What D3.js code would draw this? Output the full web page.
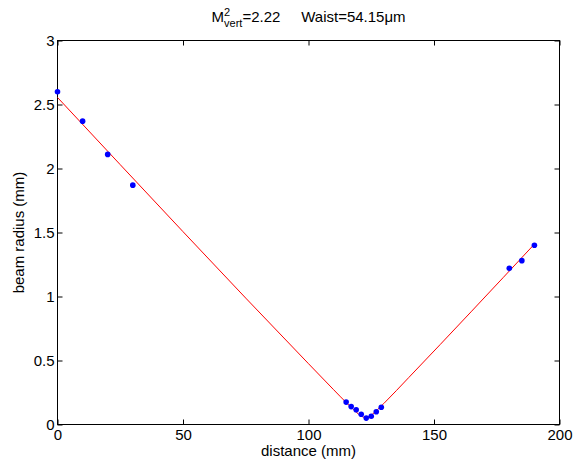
<!DOCTYPE html>
<html>
<head>
<meta charset="utf-8">
<script src="https://cdn.jsdelivr.net/npm/d3@7"></script>
<style>
  body { margin: 0; background: #fff; }
  svg { display: block; }
  text { font-family: Arial, "Liberation Sans", sans-serif; fill: #000; }
</style>
</head>
<body>
<svg width="582" height="468"></svg>
<script>
// measured points
const distance = [0, 10, 20, 30, 115, 117, 119, 121, 123, 125, 127, 129, 180, 185, 190];
const radius = [2.6, 2.37, 2.11, 1.87, 0.175, 0.14, 0.115, 0.08, 0.05, 0.065, 0.10, 0.135, 1.22, 1.28, 1.40];

// fitted curve
const fitDistance = [0, 100, 110, 115, 118, 120, 121.5, 122.6, 124, 125.5, 127.5, 130, 140, 190];
const fitRadius = [2.555, 0.475, 0.272, 0.172, 0.115, 0.08, 0.061, 0.054, 0.061, 0.081, 0.116, 0.164, 0.368, 1.409];

const xTicks = [0, 50, 100, 150, 200];
const yTicks = [0, 0.5, 1, 1.5, 2, 2.5, 3];

const plotLeft = 57.5, plotRight = 559.5, plotTop = 40.5, plotBottom = 424.5;
const svg = d3.select('svg');

let x = d3.scaleLinear().domain([0, 200]).range([plotLeft, plotRight]);
let y = d3.scaleLinear().domain([0, 3]).range([plotBottom, plotTop]);

// box
svg.append('rect')
  .attr('x', plotLeft).attr('y', plotTop)
  .attr('width', plotRight - plotLeft).attr('height', plotBottom - plotTop)
  .attr('fill', 'none').attr('stroke', '#000').attr('stroke-width', 1);

// axes with inward ticks
function styleAxis(g) {
  g.select('.domain').remove();
  g.selectAll('line').attr('stroke', '#000');
  g.selectAll('text').attr('font-size', 15).attr('font-family', 'Arial, "Liberation Sans", sans-serif');
}

svg.append('g')
  .attr('transform', `translate(0,${plotBottom})`)
  .call(d3.axisBottom(x).tickValues(xTicks).tickSize(-5).tickPadding(5).tickFormat(d3.format('d')))
  .call(styleAxis);

svg.append('g')
  .attr('transform', `translate(0,${plotTop})`)
  .call(d3.axisTop(x).tickValues(xTicks).tickSize(-5).tickFormat(''))
  .call(styleAxis);

svg.append('g')
  .attr('transform', `translate(${plotLeft},0)`)
  .call(d3.axisLeft(y).tickValues(yTicks).tickSize(-5).tickPadding(3).tickFormat(d => String(d)))
  .call(styleAxis);

svg.append('g')
  .attr('transform', `translate(${plotRight},0)`)
  .call(d3.axisRight(y).tickValues(yTicks).tickSize(-5).tickFormat(''))
  .call(styleAxis);

// fit line
let fitData = fitDistance.map((d, i) => [d, fitRadius[i]]);
svg.append('path')
  .datum(fitData)
  .attr('d', d3.line().x(d => x(d[0])).y(d => y(d[1])).curve(d3.curveMonotoneX))
  .attr('fill', 'none')
  .attr('stroke', '#ff0000')
  .attr('stroke-width', 1);

// measured dots
svg.append('g').selectAll('circle')
  .data(distance.map((d, i) => [d, radius[i]]))
  .enter().append('circle')
  .attr('cx', d => x(d[0]))
  .attr('cy', d => y(d[1]))
  .attr('r', 2.8)
  .attr('fill', '#0000ff');

// labels
svg.append('text')
  .attr('x', (plotLeft + plotRight) / 2).attr('y', 456)
  .attr('text-anchor', 'middle').attr('font-size', 15)
  .text('distance (mm)');

svg.append('text')
  .attr('transform', `translate(24,${(plotTop + plotBottom) / 2}) rotate(-90)`)
  .attr('text-anchor', 'middle').attr('font-size', 15)
  .text('beam radius (mm)');

// title
let title = svg.append('text')
  .attr('x', (plotLeft + plotRight) / 2).attr('y', 22)
  .attr('text-anchor', 'middle').attr('font-size', 15)
  .attr('xml:space', 'preserve');
title.append('tspan').text('M');
title.append('tspan').attr('font-size', 11).attr('dy', -6).text('2');
title.append('tspan').attr('font-size', 11).attr('dx', -6).attr('dy', 11).text('vert');
title.append('tspan').attr('dy', -5).text('=2.22     Waist=54.15μm');
</script>
</body>
</html>
